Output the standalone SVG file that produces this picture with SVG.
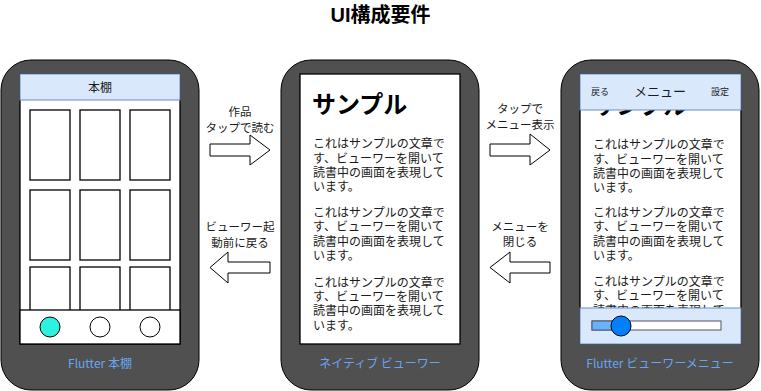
<svg xmlns="http://www.w3.org/2000/svg" width="761" height="391" viewBox="0 0 761 391">
<style>
text{font-family:"Noto Sans CJK JP","Liberation Sans",sans-serif;fill:#1a1a1a}
.phone{fill:#505050;stroke:#000;stroke-width:1}
.screen{fill:#fff;stroke:#000;stroke-width:1.3}
.bar{fill:#dae8fc;stroke:#6c8ebf;stroke-width:1}
.cell{fill:#fff;stroke:#000;stroke-width:1.3}
.p{font-size:12px}
.lbl{font-size:12px;fill:#66a6ee;text-anchor:middle}
.al{font-size:11.5px;text-anchor:middle}
.arrow{fill:#fff;stroke:#000;stroke-width:1}
.big{font-size:24px;font-weight:bold;fill:#000}
</style>
<text x="380.5" y="22" style="font-family:'Liberation Sans','Noto Sans CJK JP',sans-serif;font-size:20px;font-weight:bold;fill:#000" text-anchor="middle">UI構成要件</text>

<g id="phone-bookshelf">
<rect class="phone" x="1" y="60" width="198" height="330" rx="30"/>
<rect class="screen" x="20" y="74" width="160" height="270"/>
<rect class="cell" x="30" y="110" width="40" height="70"/>
<rect class="cell" x="80" y="110" width="40" height="70"/>
<rect class="cell" x="130" y="110" width="40" height="70"/>
<rect class="cell" x="30" y="190" width="40" height="70"/>
<rect class="cell" x="80" y="190" width="40" height="70"/>
<rect class="cell" x="130" y="190" width="40" height="70"/>
<rect class="cell" x="30" y="267" width="40" height="60"/>
<rect class="cell" x="80" y="267" width="40" height="60"/>
<rect class="cell" x="130" y="267" width="40" height="60"/>
<rect class="bar" x="20" y="74" width="160" height="26"/>
<text x="100" y="91.5" font-size="12" text-anchor="middle">本棚</text>
<rect class="screen" x="20" y="310" width="160" height="34"/>
<circle cx="50" cy="327" r="10" fill="#2ef2e0" stroke="#000"/>
<circle cx="100" cy="327" r="10" fill="#fff" stroke="#000"/>
<circle cx="150" cy="327" r="10" fill="#fff" stroke="#000"/>
<text class="lbl" x="100" y="368">Flutter 本棚</text>
</g>

<g id="phone-viewer">
<rect class="phone" x="281" y="60" width="198" height="330" rx="30"/>
<rect class="screen" x="300" y="74" width="160" height="270"/>
<text class="big" x="312" y="113">サンプル</text>
<text class="p"><tspan x="313" y="148">これはサンプルの文章で</tspan><tspan x="313" y="163">す、ビューワーを開いて</tspan><tspan x="313" y="177">読書中の画面を表現して</tspan><tspan x="313" y="191">います。</tspan></text>
<text class="p"><tspan x="313" y="217">これはサンプルの文章で</tspan><tspan x="313" y="231">す、ビューワーを開いて</tspan><tspan x="313" y="246">読書中の画面を表現して</tspan><tspan x="313" y="260">います。</tspan></text>
<text class="p"><tspan x="313" y="287">これはサンプルの文章で</tspan><tspan x="313" y="301">す、ビューワーを開いて</tspan><tspan x="313" y="315">読書中の画面を表現して</tspan><tspan x="313" y="330">います。</tspan></text>
<text class="lbl" x="380" y="368">ネイティブ ビューワー</text>
</g>

<g id="phone-menu">
<rect class="phone" x="561" y="60" width="198" height="330" rx="30"/>
<rect class="screen" x="580" y="74" width="161" height="270"/>
<text class="big" x="592" y="114">サンプル</text>
<text class="p"><tspan x="593" y="149">これはサンプルの文章で</tspan><tspan x="593" y="164">す、ビューワーを開いて</tspan><tspan x="593" y="178">読書中の画面を表現して</tspan><tspan x="593" y="192">います。</tspan></text>
<text class="p"><tspan x="593" y="217">これはサンプルの文章で</tspan><tspan x="593" y="231">す、ビューワーを開いて</tspan><tspan x="593" y="246">読書中の画面を表現して</tspan><tspan x="593" y="260">います。</tspan></text>
<text class="p"><tspan x="593" y="286">これはサンプルの文章で</tspan><tspan x="593" y="300">す、ビューワーを開いて</tspan><tspan x="593" y="315">読書中の画面を表現して</tspan><tspan x="593" y="329">います。</tspan></text>
<rect class="bar" x="580" y="74" width="161" height="36"/>
<text x="600" y="94.5" font-size="9" text-anchor="middle">戻る</text>
<text x="660" y="95.5" font-size="13" text-anchor="middle">メニュー</text>
<text x="720" y="94.5" font-size="9" text-anchor="middle">設定</text>
<rect class="bar" x="580" y="308" width="161" height="36"/>
<rect x="592" y="321" width="129" height="9" fill="#fff" stroke="#555" stroke-width="1"/>
<rect x="592" y="321" width="29" height="9" fill="#66b2ff" stroke="#555" stroke-width="1"/>
<circle cx="621" cy="326" r="10" fill="#007fff" stroke="#000"/>
<text class="lbl" x="660" y="368">Flutter ビューワーメニュー</text>
</g>

<g id="connectors">
<g id="arrow-open-work">
<polygon class="arrow" points="210,144 250,144 250,135 270,150 250,165 250,156 210,156"/>
<text class="al"><tspan x="240" y="115.5">作品</tspan><tspan x="240" y="131.5">タップで読む</tspan></text>
</g>
<g id="arrow-back-shelf">
<polygon class="arrow" points="270,262 228,262 228,252 210,267.5 228,283 228,273 270,273"/>
<text class="al"><tspan x="240" y="230.5">ビューワー起</tspan><tspan x="240" y="246.5">動前に戻る</tspan></text>
</g>
<g id="arrow-show-menu">
<polygon class="arrow" points="490,144 530,144 530,134 550,150 530,165 530,156 490,156"/>
<text class="al"><tspan x="520" y="112.5">タップで</tspan><tspan x="520" y="128.5">メニュー表示</tspan></text>
</g>
<g id="arrow-close-menu">
<polygon class="arrow" points="550,262 510,262 510,252 490,267.5 510,283 510,273 550,273"/>
<text class="al"><tspan x="520" y="231">メニューを</tspan><tspan x="520" y="246">閉じる</tspan></text>
</g>
</g>
</svg>
